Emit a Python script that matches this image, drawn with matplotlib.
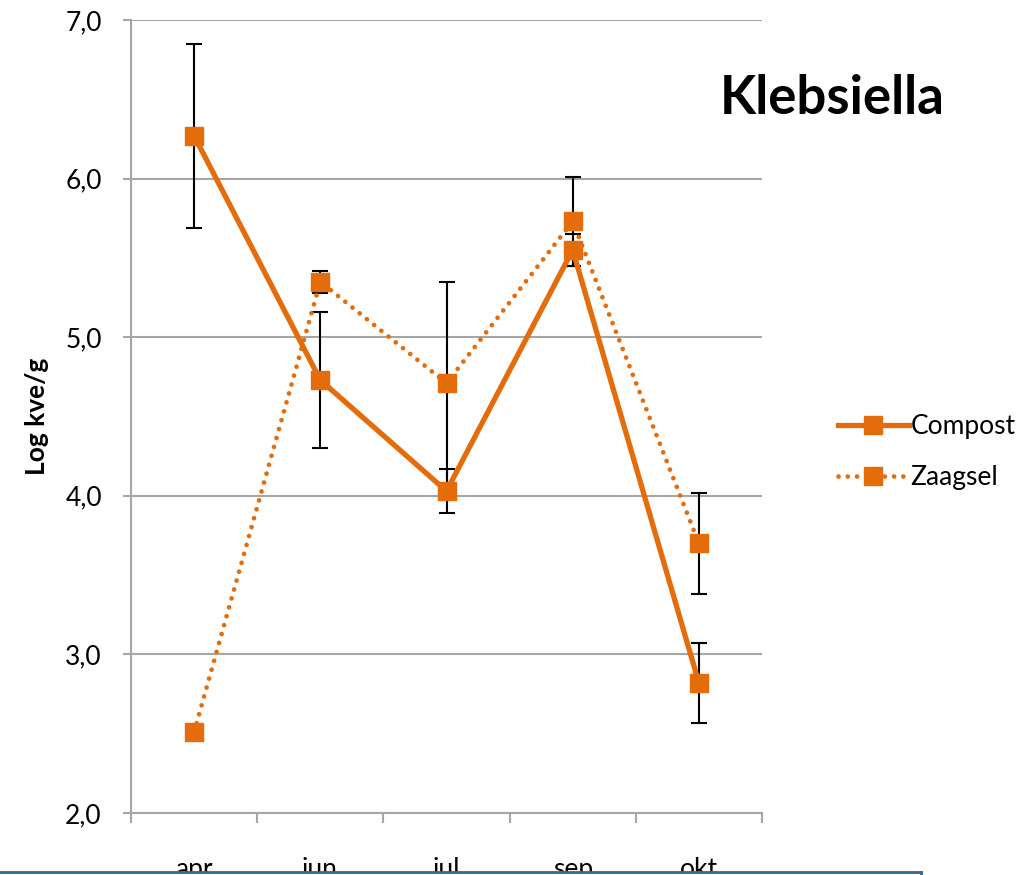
import numpy as np
import matplotlib
matplotlib.use("Agg")
import matplotlib.pyplot as plt
from matplotlib.ticker import FixedLocator, FuncFormatter
from matplotlib.lines import Line2D

plt.rcParams['font.family'] = ['Lato', 'DejaVu Sans']

months = ['apr', 'jun', 'jul', 'sep', 'okt']
compost = [6.27, 4.73, 4.03, 5.55, 2.82]
compost_err = [0.58, 0.43, 0.14, 0.10, 0.25]
zaagsel = [2.51, 5.35, 4.71, 5.73, 3.70]
zaagsel_err = [0.0, 0.07, 0.64, 0.28, 0.32]

orange = '#E46C0A'
grid_col = '#a6a6a6'
dots = (0, (0.01, 1.95))

fig = plt.figure(figsize=(10.31, 8.75), dpi=100)
ax = fig.add_axes([131 / 1031, 62 / 875, 631 / 1031, 793 / 875])

x = np.arange(len(months))

# error bars under the markers
ax.errorbar(x, compost, yerr=compost_err, fmt='none', ecolor='black',
            elinewidth=1.5, capsize=6, capthick=1.5, zorder=2)
ax.errorbar(x, zaagsel, yerr=zaagsel_err, fmt='none', ecolor='black',
            elinewidth=1.5, capsize=6, capthick=1.5, zorder=2)

ax.plot(x, compost, color=orange, linewidth=3.8, marker='s', markersize=13,
        solid_capstyle='round', label='Compost', zorder=3)
ax.plot(x, zaagsel, color=orange, linewidth=3.4, linestyle=dots,
        dash_capstyle='round', marker='s', markersize=13, label='Zaagsel', zorder=3)

ax.set_xlim(-0.5, len(months) - 0.5)
ax.set_ylim(2.0, 7.0)
ax.set_yticks(np.arange(2, 8, 1))
ax.yaxis.set_major_formatter(FuncFormatter(lambda v, p: f'{v:.1f}'.replace('.', ',')))
ax.grid(axis='y', color=grid_col, linewidth=1.5)
ax.set_axisbelow(True)

ax.set_xticks(x)
ax.set_xticklabels(months)
ax.xaxis.set_minor_locator(FixedLocator(np.arange(-0.5, len(months), 1)))
ax.tick_params(axis='x', which='major', length=0, pad=32, labelsize=19)
ax.tick_params(axis='x', which='minor', length=7, width=1.5, color=grid_col)
ax.tick_params(axis='y', length=6, width=1.5, color=grid_col, pad=15, labelsize=19)

for side in ['top', 'right']:
    ax.spines[side].set_visible(False)
for side in ['left', 'bottom']:
    ax.spines[side].set_color(grid_col)
    ax.spines[side].set_linewidth(1.5)

ax.set_ylabel('Log kve/g', fontsize=19, fontweight='bold', labelpad=12)

fig.text(832 / 1031, 1 - 98 / 875, 'Klebsiella', fontsize=38, fontweight='bold',
         ha='center', va='center')

handles = [
    Line2D([], [], color=orange, linewidth=3.8, marker='s', markersize=13),
    Line2D([], [], color=orange, linewidth=3.4, linestyle=dots,
           dash_capstyle='round', marker='s', markersize=13),
]
fig.legend(handles, ['Compost', 'Zaagsel'], loc='center left',
           bbox_to_anchor=(814 / 1031, 1 - 452 / 875), frameon=False,
           fontsize=19, handlelength=2.7, handletextpad=0.05, labelspacing=1.0)

# the clipped panel border at the bottom
fig.patches.append(plt.Rectangle((0, 0), 921 / 1031, 3 / 875, transform=fig.transFigure,
                                 facecolor='white', edgecolor='none', zorder=5))
fig.lines.append(Line2D([0, 921 / 1031], [3 / 875, 3 / 875], transform=fig.transFigure,
                        color='#2d6a96', linewidth=2, zorder=6))
fig.lines.append(Line2D([921 / 1031, 921 / 1031], [0, 3 / 875], transform=fig.transFigure,
                        color='#2d6a96', linewidth=2, zorder=6))

fig.savefig('out.png', dpi=100)
